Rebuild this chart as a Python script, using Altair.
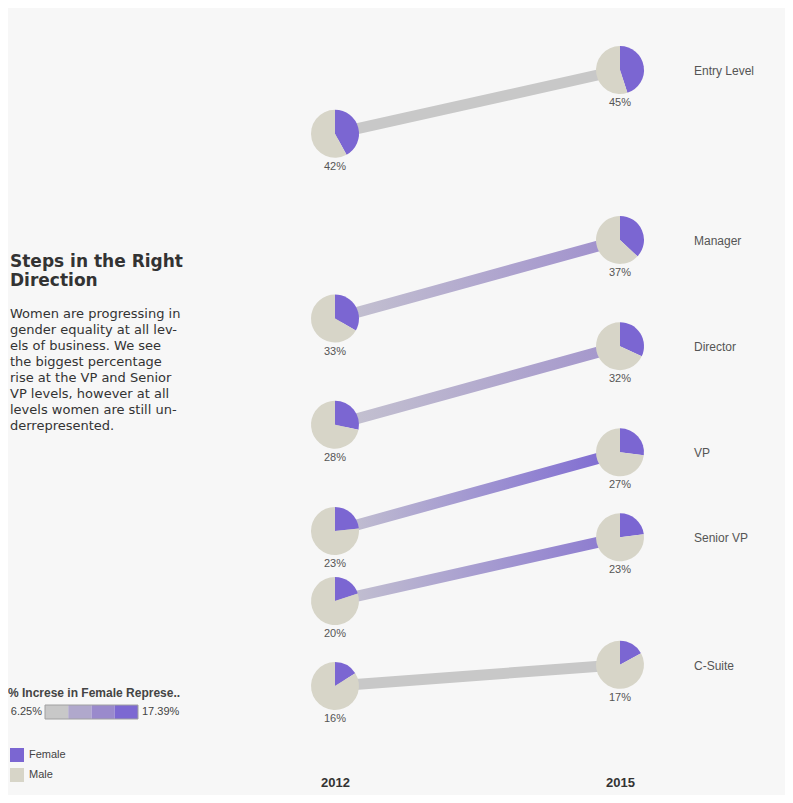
import math
import altair as alt
import pandas as pd

# ---------------- data ----------------
levels = ["Entry Level", "Manager", "Director", "VP", "Senior VP", "C-Suite"]
female_2012 = [42.0, 33.3, 28.3, 23.3, 20.0, 16.0]
female_2015 = [45.0, 37.0, 32.0, 27.0, 23.0, 17.0]
years = [2012, 2015]
genders = ["Female", "Male"]
gender_colors = ["#7b66d2", "#d7d5c8"]
line_start_colors = ["#c8c8c8", "#c5c3d0", "#c5c3d0", "#c5c3d0", "#c5c3d0", "#c8c8c8"]
line_end_colors = ["#c8c8c8", "#9f8fcd", "#a395cc", "#7c68d2", "#8a78d0", "#c8c8c8"]
ramp_colors = ["#c8c8c8", "#b0a8cc", "#9a8acc", "#7c68d2"]
ramp_labels = ["6.25%", "17.39%"]
legend_title = "% Increse in Female Represe.."
title_lines = ["Steps in the Right", "Direction"]
body_lines = [
    "Women are progressing in",
    "gender equality at all lev-",
    "els of business. We see",
    "the biggest percentage",
    "rise at the VP and Senior",
    "VP levels, however at all",
    "levels women are still un-",
    "derrepresented.",
]

# ---------------- tables ----------------
points = pd.DataFrame(
    [{"level": lv, "year": yr, "female": f}
     for lv, a, b in zip(levels, female_2012, female_2015)
     for yr, f in zip(years, [a, b])]
)
pies = pd.DataFrame(
    [{"level": r.level, "year": r.year, "female": r.female, "gender": g}
     for r in points.itertuples() for g in genders]
)
ramp = pd.DataFrame({"i": list(range(len(ramp_colors))), "c": ramp_colors})

BG = "#f7f7f7"
xs = alt.Scale(domain=[2012, 2015], range=[327, 612])
ys = alt.Scale(domain=[16, 45], range=[678, 62])
X = alt.X("year:Q", scale=xs,
          axis=alt.Axis(values=years, format="d", title=None, domain=False, ticks=False,
                        grid=False, labelFont="Liberation Sans", labelFontSize=13,
                        labelFontWeight="bold", labelColor="#333333", labelPadding=8,
                        labelFlush=False))
Y = alt.Y("female:Q", scale=ys, axis=None)

layers = []
for lv, c0, c1 in zip(levels, line_start_colors, line_end_colors):
    grad = alt.LinearGradient(
        gradient="linear", x1=0, x2=1, y1=0, y2=0,
        stops=[alt.GradientStop(offset=0, color=c0), alt.GradientStop(offset=1, color=c1)],
    )
    layers.append(
        alt.Chart(points).transform_filter(alt.datum.level == lv)
        .mark_line(strokeWidth=11, stroke=grad, strokeCap="butt")
        .encode(x=X, y=Y)
    )

pie_layer = (
    alt.Chart(pies)
    .transform_calculate(
        t0="datum.gender == 'Female' ? 0 : datum.female / 100 * 2 * PI",
        t1="datum.gender == 'Female' ? datum.female / 100 * 2 * PI : 2 * PI",
    )
    .mark_arc(outerRadius=24)
    .encode(
        x=X, y=Y,
        theta=alt.Theta("t0:Q", scale=None),
        theta2="t1:Q",
        color=alt.Color(
            "gender:N",
            scale=alt.Scale(domain=genders, range=gender_colors),
            legend=alt.Legend(
                title=None, orient="none", legendX=2, legendY=740, symbolType="square",
                symbolSize=196, symbolStrokeWidth=0, labelFont="Liberation Sans",
                labelFontSize=11, labelColor="#444444", labelOffset=5, rowPadding=6,
                padding=0,
            ),
        ),
    )
)

pct_labels = (
    alt.Chart(points)
    .transform_calculate(lab="format(datum.female, '.0f') + '%'")
    .mark_text(dy=33, font="Liberation Sans", fontSize=11, color="#555555", baseline="middle")
    .encode(x=X, y=Y, text="lab:N")
)

level_labels = (
    alt.Chart(points).transform_filter(alt.datum.year == 2015)
    .mark_text(dx=74, dy=1, align="left", baseline="middle", font="Liberation Sans",
               fontSize=12, color="#555555")
    .encode(x=X, y=Y, text="level:N")
)

one = pd.DataFrame({"a": [0]})
title_txt = alt.Chart(one).mark_text(
    text=title_lines, align="left", baseline="alphabetic", font="DejaVu Sans",
    fontSize=17, fontWeight="bold", color="#333333", lineHeight=19,
).encode(x=alt.value(2), y=alt.value(259))
body_txt = alt.Chart(one).mark_text(
    text=body_lines, align="left", baseline="alphabetic", font="DejaVu Sans",
    fontSize=13, color="#333333", lineHeight=16,
).encode(x=alt.value(2), y=alt.value(310))

leg_title = alt.Chart(one).mark_text(
    text=legend_title, align="left", baseline="middle", font="Liberation Sans",
    fontSize=12, fontWeight="bold", color="#444444",
).encode(x=alt.value(0), y=alt.value(685))

ramp_rects = (
    alt.Chart(ramp)
    .transform_calculate(px0="37 + datum.i * 23.25", px1="37 + (datum.i + 1) * 23.25")
    .mark_rect()
    .encode(x=alt.X("px0:Q", scale=None), x2="px1:Q",
            y=alt.value(697), y2=alt.value(711),
            fill=alt.Fill("c:N", scale=None))
)
ramp_border = alt.Chart(one).mark_rect(fill=None, stroke="#a0a0a0", strokeWidth=1).encode(
    x=alt.value(37), x2=alt.value(130), y=alt.value(697), y2=alt.value(711)
)
ramp_lo = alt.Chart(one).mark_text(
    text=ramp_labels[0], align="right", baseline="middle", font="Liberation Sans",
    fontSize=11, color="#444444",
).encode(x=alt.value(34), y=alt.value(704))
ramp_hi = alt.Chart(one).mark_text(
    text=ramp_labels[1], align="left", baseline="middle", font="Liberation Sans",
    fontSize=11, color="#444444",
).encode(x=alt.value(134), y=alt.value(704))

chart = (
    alt.layer(*layers, pie_layer, pct_labels, level_labels, title_txt, body_txt,
              leg_title, ramp_rects, ramp_border, ramp_lo, ramp_hi)
    .properties(
        width=777, height=760,
        autosize=alt.AutoSizeParams(type="none"),
        padding={"left": 0, "top": 0, "right": 0, "bottom": 27},
        background=BG,
    )
    .configure_view(stroke=None)
)

chart.save("out.html", embed_options={"renderer": "svg", "actions": False})
